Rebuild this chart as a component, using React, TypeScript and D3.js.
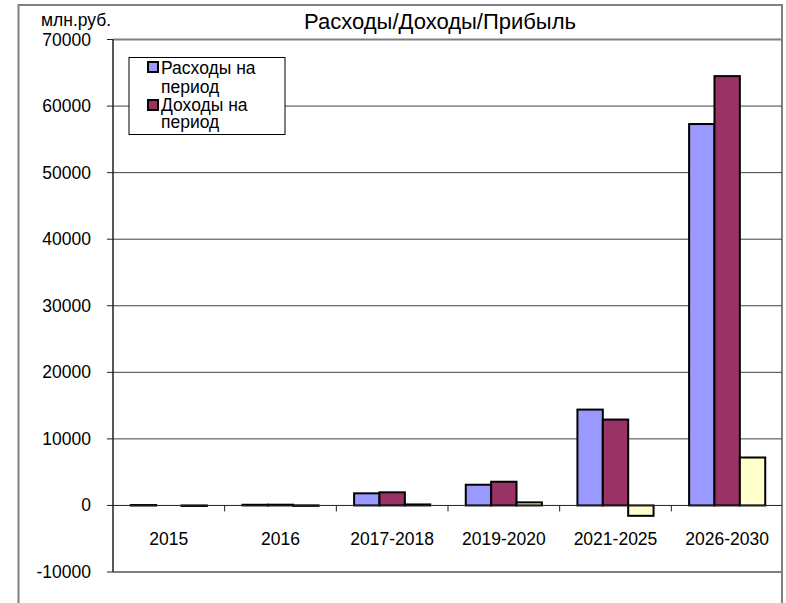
import React from "react";
import * as d3 from "d3";

const categories = ["2015", "2016", "2017-2018", "2019-2020", "2021-2025", "2026-2030"];
const seriesNames = ["Расходы на период", "Доходы на период", "Прибыль"];
const expenses = [60, 100, 1820, 3110, 14400, 57300];
const income = [0, 110, 1970, 3560, 12900, 64500];
const profit = [-60, 10, 150, 460, -1560, 7200];
const yTicks = [-10000, 0, 10000, 20000, 30000, 40000, 50000, 60000, 70000];
const colors = ["#9999FF", "#993366", "#FFFFCC"];

const W = 786;
const H = 603;
const FONT = "Arial, 'Liberation Sans', sans-serif";

export default function App() {
  const series = [expenses, income, profit];
  const x = d3.scaleBand<string>().domain(categories).range([113, 783]).padding(0);
  const inner = d3
    .scaleBand<number>()
    .domain([0, 1, 2])
    .range([0, x.bandwidth()])
    .paddingInner(0)
    .paddingOuter(0.7);
  const y = d3.scaleLinear().domain([-10000, 70000]).range([572, 39.5]);
  const plotL = 113;
  const plotR = 782;

  return (
    <div style={{ position: "absolute", left: 0, top: 0 }}>
      <svg width={W} height={H} style={{ display: "block", fontFamily: FONT }}>
        <rect x={0} y={0} width={W} height={H} fill="#fff" />
        {/* outer frame */}
        <path d={`M18.5,${H} V5 H782 V${H}`} fill="none" stroke="#808080" strokeWidth={2} />
        {/* title */}
        <text x={440} y={29} fontSize={22} textAnchor="middle" fill="#000">
          Расходы/Доходы/Прибыль
        </text>
        <text x={41} y={26} fontSize={17.5} fill="#000">
          млн.руб.
        </text>
        {/* gridlines */}
        {yTicks
          .filter((t) => t > -10000 && t < 70000 && t !== 0)
          .map((t) => (
            <line key={t} x1={plotL} x2={plotR} y1={y(t)} y2={y(t)} stroke="#404040" strokeWidth={1} />
          ))}
        {/* plot border top / bottom */}
        <line x1={plotL} x2={plotR} y1={y(70000)} y2={y(70000)} stroke="#808080" strokeWidth={2} />
        <line x1={plotL} x2={plotR} y1={y(-10000)} y2={y(-10000)} stroke="#808080" strokeWidth={2} />
        {/* bars */}
        {categories.map((c, ci) => (
          <g key={c} transform={`translate(${x(c)},0)`}>
            {series.map((s, si) => {
              const v = s[ci];
              if (v === 0) return null;
              const y0 = y(Math.max(0, v));
              const y1 = y(Math.min(0, v));
              return (
                <rect
                  key={si}
                  x={inner(si)}
                  y={y0}
                  width={inner.bandwidth()}
                  height={Math.max(0.5, y1 - y0)}
                  fill={colors[si]}
                  stroke="#000"
                  strokeWidth={2}
                />
              );
            })}
          </g>
        ))}
        {/* zero axis */}
        <line x1={plotL} x2={plotR} y1={y(0)} y2={y(0)} stroke="#202020" strokeWidth={1} />
        {categories.slice(1).map((c) => (
          <line key={c} x1={x(c)} x2={x(c)} y1={y(0)} y2={y(0) + 6} stroke="#202020" strokeWidth={1} />
        ))}
        {/* y axis */}
        <line x1={plotL} x2={plotL} y1={y(70000)} y2={y(-10000)} stroke="#202020" strokeWidth={1.5} />
        {yTicks.map((t) => (
          <g key={t}>
            <line x1={plotL - 6} x2={plotL} y1={y(t)} y2={y(t)} stroke="#202020" strokeWidth={1} />
            <text x={91} y={y(t) + 6} fontSize={17.5} textAnchor="end" fill="#000">
              {t}
            </text>
          </g>
        ))}
        {/* x labels */}
        {categories.map((c) => (
          <text key={c} x={(x(c) as number) + x.bandwidth() / 2} y={545} fontSize={17.5} textAnchor="middle" fill="#000">
            {c}
          </text>
        ))}
        {/* legend */}
        <rect x={129} y={57.5} width={156} height={77} fill="#fff" stroke="#000" strokeWidth={1} />
        <rect x={148} y={62} width={10} height={10} fill={colors[0]} stroke="#000" strokeWidth={2} />
        <text x={161} y={74} fontSize={17.5} fill="#000">Расходы на</text>
        <text x={161} y={93} fontSize={17.5} fill="#000">период</text>
        <rect x={148} y={100} width={10} height={10} fill={colors[1]} stroke="#000" strokeWidth={2} />
        <text x={161} y={111} fontSize={17.5} fill="#000">Доходы на</text>
        <text x={161} y={128} fontSize={17.5} fill="#000">период</text>
      </svg>
    </div>
  );
}
